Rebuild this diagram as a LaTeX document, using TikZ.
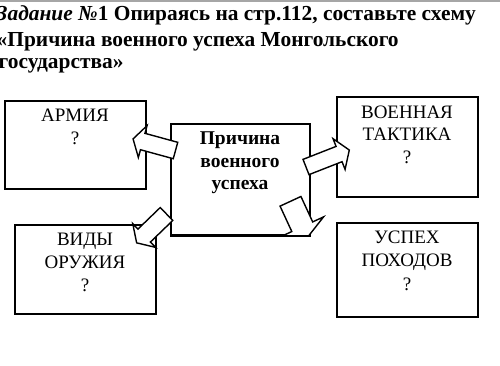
\documentclass[tikz,border=0pt]{standalone}
\usepackage{fontspec}
\setmainfont{Liberation Serif}
\tikzset{
  box/.style={draw=black, line width=1.9pt, fill=white, rectangle, inner sep=0pt},
  boxtxt/.style={font=\fontsize{19}{22}\selectfont, anchor=base, inner sep=0pt},
  ctxt/.style={font=\fontsize{19.5}{23}\selectfont\bfseries, anchor=base, inner sep=0pt},
  ttl/.style={font=\fontsize{21.4}{25}\selectfont\bfseries, anchor=base west, inner sep=0pt},
  barrow/.style={draw=black, line width=1.4pt, fill=white, line join=miter}
}
\newcommand{\blockarr}[8]{%
  \begin{scope}[shift={(#2,#3)},rotate=#4]
    \coordinate (#1tail) at (0,0);
    \coordinate (#1tip) at (#5,0);
    \draw[barrow] (0,-#6) -- ({#5-#8},-#6) -- ({#5-#8},-#7) -- (#1tip)
      -- ({#5-#8},#7) -- ({#5-#8},#6) -- (0,#6) -- cycle;
  \end{scope}}
\begin{document}
\begin{tikzpicture}[x=1pt,y=-1pt]
\useasboundingbox (0,0) rectangle (500,365);
\fill[white] (0,0) rectangle (500,365);
\draw[black!35, line width=1.4pt] (0,0.8) -- (500,0.8);
% title
\node[ttl] (t1) at (-3.5,20.7) {\textit{Задание №}1 Опираясь на стр.112, составьте схему};
\node[ttl] (t2) at (-3.5,46.5) {«Причина военного успеха Монгольского};
\node[ttl] (t3) at (-1.5,68.5) {государства»};
% boxes
\node[box, minimum width=141pt, minimum height=88pt] (army) at (75.5,145) {};
\node[box, minimum width=139pt, minimum height=111pt] (cbox) at (240.5,179.5) {};
\node[box, minimum width=141pt, minimum height=100pt] (tact) at (407.5,147) {};
\node[box, minimum width=141pt, minimum height=89pt] (weap) at (85.5,269.5) {};
\node[box, minimum width=141pt, minimum height=94pt] (succ) at (407.5,270) {};
% box texts
\node[boxtxt] (army1) at (75,121) {АРМИЯ};
\node[boxtxt] (army2) at (75,144) {?};
\node[boxtxt] (tact1) at (407,118) {ВОЕННАЯ};
\node[boxtxt] (tact2) at (407,140.5) {ТАКТИКА};
\node[boxtxt] (tact3) at (407,163.3) {?};
\node[boxtxt] (weap1) at (85,245) {ВИДЫ};
\node[boxtxt] (weap2) at (85,268) {ОРУЖИЯ};
\node[boxtxt] (weap3) at (85,291.5) {?};
\node[boxtxt] (succ1) at (407,243) {УСПЕХ};
\node[boxtxt] (succ2) at (407,266.5) {ПОХОДОВ};
\node[boxtxt] (succ3) at (407,290) {?};
\node[ctxt] (c1) at (240,144) {Причина};
\node[ctxt] (c2) at (240,167.5) {военного};
\node[ctxt] (c3) at (240,189) {успеха};
% block arrows
\blockarr{aa}{175.5}{150.5}{164.7}{44}{8.5}{16.5}{10}
\blockarr{ab}{306}{167}{21.4}{46.5}{8.2}{16.5}{11}
\blockarr{ac}{166.5}{214}{224}{41.5}{9}{16.5}{10.5}
\begin{scope}
  \clip (250,185) rectangle (340,235);
  \blockarr{ad}{290.5}{201.3}{-65.2}{40}{11.5}{23.5}{12}
\end{scope}
\draw[line width=1.9pt] (cbox.south west) -- (cbox.south east);
\end{tikzpicture}
\end{document}
